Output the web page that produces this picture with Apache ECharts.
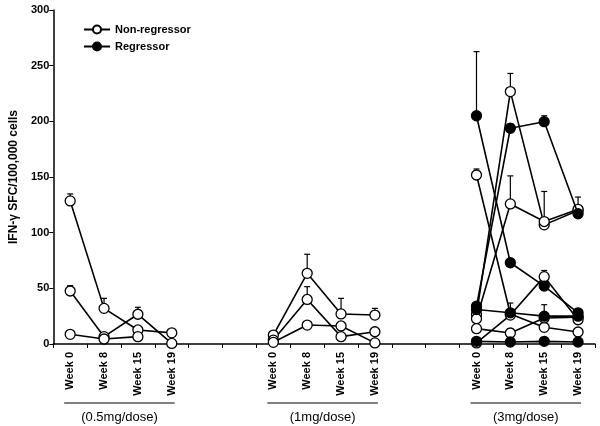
<!DOCTYPE html>
<html>
<head>
<meta charset="utf-8">
<script src="https://cdn.jsdelivr.net/npm/echarts@6/dist/echarts.min.js"></script>
<style>
  html, body { margin: 0; padding: 0; background: #fff; }
  #chart { width: 600px; height: 426px; }
</style>
</head>
<body>
<div id="chart"></div>
<script>
const weeks = ['Week 0', 'Week 8', 'Week 15', 'Week 19'];
const doses = ['(0.5mg/dose)', '(1mg/dose)', '(3mg/dose)'];
const groupStart = [0, 6, 12];
const categories = [].concat(weeks, ['', ''], weeks, ['', ''], weeks);

// 0.5 mg/dose - all non-regressors
const nonReg05 = [[128.5, 32, 12.6, 10], [47.6, 6.6, 26.7, 0.5], [8.7, 4.5, 6.6, null]];
const nonReg05Err = [[134.8, 41, null, null], [52.4, null, 33, null], [null, null, null, null]];

// 1 mg/dose
const nonReg1 = [[8, 63.5, 27, 26], [3.5, 40, 6.6, 11], [1.5, 17, 16.2, 1]];
const nonReg1Err = [[null, 80.6, 41, 32], [null, 51.5, null, 14], [null, null, null, null]];

// 3 mg/dose
const nonReg3 = [[151.8, 27, 15, 10.8], [26.4, 226.7, 107, 120], [22.7, 125.8, 110, 121], [13.8, 9.9, 23.4, 24], [1, 26, 60.5, 21.8]];
const nonReg3Err = [[157.2, null, null, null], [null, 243, null, 132], [null, 151, 137, null], [null, 13.8, 35.3, null], [null, 36.8, 66, null]];
const reg3 = [[205, 73, 52, 28], [34, 193.8, 199.7, 117], [31, 28, 25, 25], [2.4, 1.8, 2.4, 1.8]];
const reg3Err = [[262.6, null, null, null], [null, 197.7, 205, null], [null, null, null, null], [null, null, null, null]];

const font = "'Liberation Sans', Arial, sans-serif";
const chart = echarts.init(document.getElementById('chart'));

function lineSeries(name, vals, start, filled) {
  return {
    name: name,
    type: 'line',
    data: vals.map((v, i) => [start + i, v == null ? '-' : v]),
    symbol: 'circle',
    symbolSize: 10,
    showSymbol: true,
    animation: false,
    z: filled ? 4 : 3,
    lineStyle: { color: '#000', width: 1.6 },
    itemStyle: { color: filled ? '#000' : '#fff', borderColor: '#000', borderWidth: 1.3 }
  };
}

const series = [];
const errData = [];
function addGroup(name, rows, errs, g, filled) {
  rows.forEach((vals, k) => {
    series.push(lineSeries(name, vals, groupStart[g], filled));
    errs[k].forEach((top, i) => {
      if (top != null) errData.push([groupStart[g] + i, vals[i], top]);
    });
  });
}
addGroup('Non-regressor', nonReg05, nonReg05Err, 0, false);
addGroup('Non-regressor', nonReg1, nonReg1Err, 1, false);
addGroup('Non-regressor', nonReg3, nonReg3Err, 2, false);
addGroup('Regressor', reg3, reg3Err, 2, true);

series.unshift({
  type: 'custom',
  animation: false,
  z: 2,
  data: errData,
  renderItem: function (params, api) {
    const p = api.coord([api.value(0), api.value(1)]);
    const t = api.coord([api.value(0), api.value(2)]);
    const st = { stroke: '#000', lineWidth: 1.2 };
    return {
      type: 'group',
      children: [
        { type: 'line', shape: { x1: p[0], y1: p[1], x2: p[0], y2: t[1] }, style: st },
        { type: 'line', shape: { x1: p[0] - 3, y1: t[1], x2: p[0] + 3, y2: t[1] }, style: st }
      ]
    };
  }
});

const option = {
  animation: false,
  backgroundColor: '#fff',
  textStyle: { fontFamily: font },
  grid: { left: 44, right: 5, top: 10, bottom: 82 },
  legend: {
    data: ['Non-regressor', 'Regressor'],
    orient: 'vertical',
    left: 83,
    top: 24,
    padding: 0,
    itemWidth: 26,
    itemHeight: 10,
    itemGap: 6,
    textStyle: { fontFamily: font, fontSize: 11, fontWeight: 'bold', color: '#000' }
  },
  xAxis: {
    type: 'category',
    data: categories,
    boundaryGap: true,
    axisLine: { lineStyle: { color: '#000', width: 1.5 } },
    axisTick: { show: true, interval: 0, length: 4, lineStyle: { color: '#000', width: 1 } },
    axisLabel: {
      interval: 0, rotate: 90, margin: 8,
      fontFamily: font, fontSize: 11, fontWeight: 'bold', color: '#000'
    }
  },
  yAxis: {
    type: 'value',
    min: 0,
    max: 300,
    interval: 50,
    name: 'IFN-γ SFC/100,000 cells',
    nameLocation: 'middle',
    nameGap: 27,
    nameTextStyle: { fontFamily: font, fontSize: 12, fontWeight: 'bold', color: '#000' },
    splitLine: { show: false },
    axisLine: { show: true, lineStyle: { color: '#000', width: 1.5 } },
    axisTick: { show: true, length: 4, lineStyle: { color: '#000', width: 1 } },
    axisLabel: { margin: 4, fontFamily: font, fontSize: 11, fontWeight: 'bold', color: '#000' }
  },
  series: series
};
chart.setOption(option);

// group brackets under the week labels
const graphics = [];
doses.forEach((d, g) => {
  const x0 = chart.convertToPixel({ xAxisIndex: 0 }, groupStart[g]) - 6;
  const x1 = chart.convertToPixel({ xAxisIndex: 0 }, groupStart[g] + 3) + 3;
  graphics.push({
    type: 'line',
    shape: { x1: x0, y1: 403, x2: x1, y2: 403 },
    style: { stroke: '#000', lineWidth: 1 }
  });
  graphics.push({
    type: 'text',
    x: (x0 + x1) / 2,
    y: 417,
    style: {
      text: d, fill: '#000', font: '13px ' + font,
      textAlign: 'center', textVerticalAlign: 'middle'
    }
  });
});
chart.setOption({ graphic: graphics });
</script>
</body>
</html>
